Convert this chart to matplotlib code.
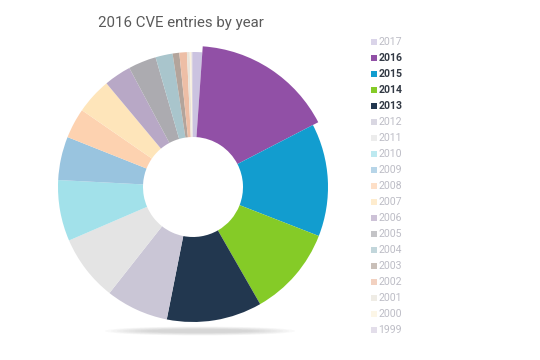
import numpy as np
import matplotlib.pyplot as plt
from matplotlib.patches import Ellipse, Rectangle

# years, shares (% of entries)
years = ['2017', '2016', '2015', '2014', '2013', '2012', '2011', '2010', '2009',
         '2008', '2007', '2006', '2005', '2004', '2003', '2002', '2001', '2000', '1999']
shares = [1.1, 16.3, 13.5, 10.8, 11.4, 7.5, 7.9, 7.3, 5.2,
          3.6, 4.3, 3.25, 3.35, 2.05, 0.8, 0.9, 0.33, 0.22, 0.17]
colors = ['#cbc3e0', '#9150a6', '#129dcf', '#85cb27', '#22374f', '#cac6d6', '#e4e4e4',
          '#a2e1ea', '#99c4df', '#fdd2b0', '#fee5ba', '#b8a8c6', '#acabb0', '#a9c5cc',
          '#b3a49b', '#edbea6', '#e9e4da', '#fbf3dd', '#d8d1e2']
strong = ['2016', '2015', '2014', '2013']

fig = plt.figure(figsize=(5.4, 3.6), dpi=100)
ax = fig.add_axes([0, 0, 1, 1])
ax.set_xlim(0, 540)
ax.set_ylim(0, 360)
ax.set_aspect('equal')
ax.axis('off')

cx, cy = 193, 360 - 187
R, r_in = 135, 50

# soft shadow under the ring
for k in range(8):
    ax.add_patch(Ellipse((200, 360 - 331), 190 - k * 12, 9 - k * 0.8,
                         color='#9a9a9a', alpha=0.06, lw=0, zorder=0))

wedges, _ = ax.pie(shares, colors=colors, startangle=90, counterclock=False,
                   radius=R, center=(cx, cy),
                   wedgeprops=dict(width=R - r_in, linewidth=0))
# highlighted 2016 slice sits a bit further out
w = wedges[years.index('2016')]
w.set_radius(R + 6)
w.set_width(R + 6 - r_in)
ax.set_xlim(0, 540)
ax.set_ylim(0, 360)

fig.text(98 / 540, 1 - 23 / 360, '2016 CVE entries by year', fontsize=10.8,
         family='Roboto', color='#5a5a5a', va='center', ha='left')

# legend on the right
for i, (yr, c) in enumerate(zip(years, colors)):
    ypx = 42 + i * 16.0
    on = yr in strong
    ax.add_patch(Rectangle((371, 360 - ypx - 3), 6, 6, color=c,
                           alpha=1.0 if on else 0.7, lw=0))
    fig.text(378.5 / 540, 1 - ypx / 360, yr, fontsize=7.6, family='Roboto',
             fontweight='bold' if on else 'normal',
             color='#333a45' if on else '#bdbdc6', va='center', ha='left')

fig.savefig('out.png', dpi=100)
